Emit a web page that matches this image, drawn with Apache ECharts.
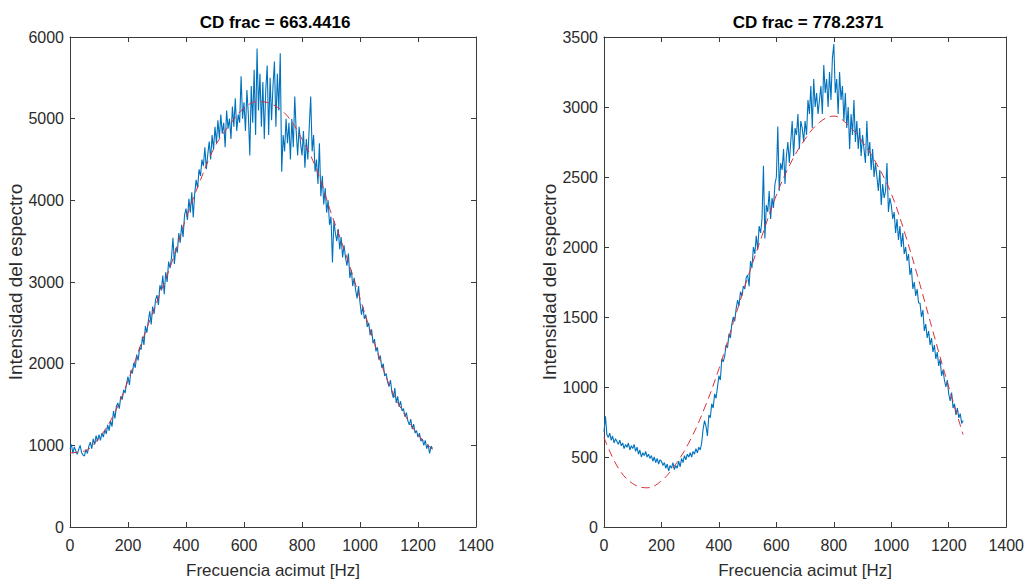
<!DOCTYPE html>
<html>
<head>
<meta charset="utf-8">
<script src="https://cdn.jsdelivr.net/npm/echarts@6/dist/echarts.min.js"></script>
<style>
html,body{margin:0;padding:0;background:#fff;}
#chart{width:1027px;height:584px;}
</style>
</head>
<body>
<div id="chart"></div>
<script>
// ---- data ----
const titles = ['CD frac = 663.4416', 'CD frac = 778.2371'];
const xName = 'Frecuencia acimut [Hz]';
const yName = 'Intensidad del espectro';
const xTicks = [0, 200, 400, 600, 800, 1000, 1200, 1400];
const yTicksLeft = [0, 1000, 2000, 3000, 4000, 5000, 6000];
const yTicksRight = [0, 500, 1000, 1500, 2000, 2500, 3000, 3500];

const freqStep = 5;    // Hz between samples of the measured spectrum
const fitStep = 50;    // Hz between samples of the fitted curve

const blueLeft = [
960,1010,900,980,930,890,950,1000,910,880,
870,950,900,990,1040,960,1080,1010,1120,1050,
1130,1060,1150,1100,1190,1140,1250,1180,1300,1230,
1420,1330,1480,1520,1450,1600,1560,1680,1640,1760,
1840,1740,1920,1880,2010,1950,2110,2040,2200,2170,
2330,2230,2460,2380,2520,2640,2480,2700,2610,2780,
2840,2720,2960,2900,3080,2850,3120,3000,3250,3170,
3300,3540,3220,3420,3360,3600,3480,3700,3550,3820,
3900,3760,4020,3850,4100,3790,4080,4250,4150,4380,
4300,4500,4420,4650,4380,4560,4720,4500,4800,4620,
4900,4700,4980,4760,5050,4820,4950,4650,5100,4880,
5000,4750,5150,4900,5250,4850,5050,4950,5520,5000,
5200,4850,5350,5050,4550,5400,4950,5600,4800,5860,
5100,5550,4900,5450,4750,5350,5650,4800,5500,4980,
5400,5700,4900,5550,5100,5800,4350,4800,4600,5000,
4700,4950,4500,5000,4650,5270,4850,4550,4900,4700,
4550,4850,4400,4750,4500,4900,5270,4600,4800,4350,
4500,4200,4700,4050,4300,3950,4150,3850,4000,3700,
3800,3240,3750,3600,3500,3650,3400,3550,3300,3450,
3300,3200,3350,3050,3150,2950,3050,2900,2800,2950,
2750,2600,2700,2550,2600,2450,2500,2350,2420,2250,
2300,2150,2200,2050,2100,1950,2000,1850,1880,1780,
1720,1800,1650,1580,1700,1520,1600,1470,1540,1420,
1450,1350,1400,1300,1250,1320,1200,1260,1150,1180,
1100,1150,1050,1080,1000,1060,960,1010,900,990,
960];

const fitLeft = [910,930,1090,1370,1790,2290,2760,3230,3780,4250,4660,4920,5130,
5210,5170,5030,4750,4380,3850,3350,2800,2250,1750,1400,1130,950];

const blueRight = [
680,790,660,640,670,620,650,600,630,610,
590,620,580,600,560,590,570,600,550,580,
560,590,540,570,520,550,500,530,510,540,
500,520,490,510,470,500,460,490,450,480,
470,440,460,420,450,400,440,420,460,410,
440,420,470,430,490,460,510,480,520,500,
530,500,540,520,560,530,570,550,600,700,
760,720,650,800,780,880,850,950,920,1000,
1080,1050,1200,1180,1220,1300,1280,1380,1350,1450,
1500,1470,1560,1620,1580,1680,1650,1720,1700,1780,
1800,1720,1900,1850,2000,1950,2080,1980,2150,2100,
2200,2580,2060,2300,2250,2400,2200,2350,2280,2450,
2500,2860,2400,2600,2550,2700,2450,2650,2750,2600,
2750,2900,2650,2850,2800,2950,2700,2900,2850,2750,
2900,2800,3050,2950,3150,2850,3200,3000,3100,2950,
3050,3150,2950,3300,3100,3200,3000,3250,3050,3350,
3450,3100,3200,2950,3250,3050,3150,2900,3100,2850,
3000,2700,2950,2800,3050,2750,2900,2700,2850,2650,
2800,2700,2600,2900,2650,2750,2550,2700,2500,2600,
2500,2400,2550,2300,2450,2350,2400,2600,2250,2350,
2300,2200,2250,2100,2200,2050,2150,2000,2100,1950,
2000,1900,1950,1800,1850,1700,1750,1650,1700,1600,
1600,1500,1550,1400,1450,1350,1400,1300,1350,1250,
1300,1200,1250,1150,1200,1080,1120,1050,1000,1050,
950,900,960,850,880,800,850,780,810,740,
760];

const fitRight = [640,420,310,280,330,450,620,850,1130,1460,1780,2080,2370,
2600,2770,2890,2935,2870,2750,2590,2380,2080,1730,1360,1000,660];

// ---- chart ----
const pairs = (arr, step) => arr.map((v, i) => [i * step, v]);

const FONT = 'Liberation Sans, Arial, sans-serif';
const AX = '#3a3a3a';
const TXT = '#2b2b2b';
const grids = [
  {left: 70, top: 37, width: 406, height: 492},
  {left: 604, top: 37, width: 404, height: 492}
];
const yTicksAll = [yTicksLeft, yTicksRight];
const plain = v => String(v);

const xAxes = [], yAxes = [];
grids.forEach((g, gi) => {
  const yt = yTicksAll[gi];
  const base = {
    gridIndex: gi, type: 'value',
    axisLine: {show: true, onZero: false, lineStyle: {color: AX, width: 1}},
    axisTick: {show: true, inside: true, length: 5, lineStyle: {color: AX}},
    splitLine: {show: false}
  };
  xAxes.push(Object.assign({}, base, {
    position: 'bottom', min: xTicks[0], max: xTicks[xTicks.length - 1],
    interval: xTicks[1] - xTicks[0],
    name: xName, nameLocation: 'middle', nameGap: 35,
    nameTextStyle: {fontFamily: FONT, fontSize: 17, color: TXT},
    axisLabel: {fontFamily: FONT, fontSize: 16, color: TXT, margin: 10, formatter: plain}
  }));
  xAxes.push(Object.assign({}, base, {
    position: 'top', min: xTicks[0], max: xTicks[xTicks.length - 1],
    interval: xTicks[1] - xTicks[0], axisLabel: {show: false}
  }));
  yAxes.push(Object.assign({}, base, {
    position: 'left', min: yt[0], max: yt[yt.length - 1], interval: yt[1] - yt[0],
    name: yName, nameLocation: 'middle', nameGap: gi === 0 ? 44 : 41,
    nameTextStyle: {fontFamily: FONT, fontSize: 19, color: TXT},
    axisLabel: {fontFamily: FONT, fontSize: 16, color: TXT, margin: 6, formatter: plain}
  }));
  yAxes.push(Object.assign({}, base, {
    position: 'right', min: yt[0], max: yt[yt.length - 1], interval: yt[1] - yt[0],
    axisLabel: {show: false}
  }));
});

const BLUE = '#0072BD';
const RED = '#D8303A';
const series = [
  {type: 'line', xAxisIndex: 0, yAxisIndex: 0, data: pairs(blueLeft, freqStep),
   showSymbol: false, lineStyle: {color: BLUE, width: 1.1}, z: 2},
  {type: 'line', xAxisIndex: 0, yAxisIndex: 0, data: pairs(fitLeft, fitStep), smooth: 0.4,
   showSymbol: false, lineStyle: {color: RED, width: 1, type: [8, 5]}, z: 3},
  {type: 'line', xAxisIndex: 2, yAxisIndex: 2, data: pairs(blueRight, freqStep),
   showSymbol: false, lineStyle: {color: BLUE, width: 1.1}, z: 2},
  {type: 'line', xAxisIndex: 2, yAxisIndex: 2, data: pairs(fitRight, fitStep), smooth: 0.4,
   showSymbol: false, lineStyle: {color: RED, width: 1, type: [8, 5]}, z: 3}
];

const graphic = grids.map((g, gi) => ({
  type: 'text',
  x: g.left + g.width / 2 + 2, y: 22,
  style: {text: titles[gi], fill: '#000', font: 'bold 17px ' + FONT,
          textAlign: 'center', textVerticalAlign: 'middle'}
}));

const chart = echarts.init(document.getElementById('chart'), null, {renderer: 'svg'});
chart.setOption({
  animation: false,
  backgroundColor: '#fff',
  grid: grids,
  xAxis: xAxes,
  yAxis: yAxes,
  series: series,
  graphic: graphic
});
</script>
</body>
</html>
